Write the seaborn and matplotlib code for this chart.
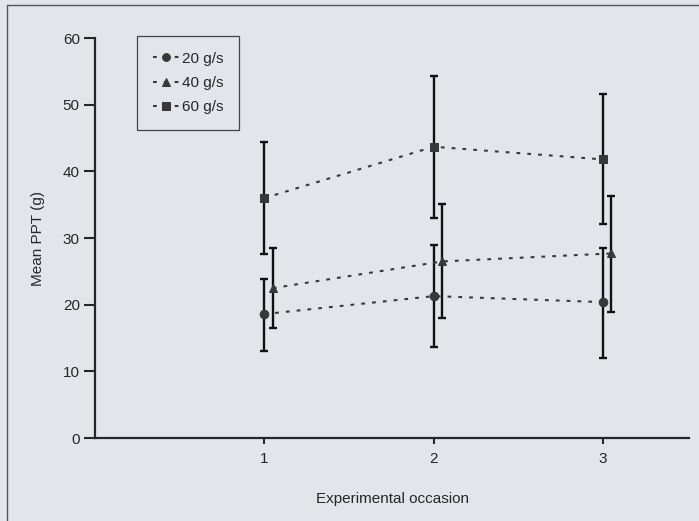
import numpy as np
import pandas as pd
import matplotlib
matplotlib.use('Agg')
import matplotlib.pyplot as plt
import seaborn as sns

#%% Values (mean PPT and error bar ends, g)
occasion  = [1, 2, 3]
speeds    = ['20 g/s', '40 g/s', '60 g/s']
mean_20   = [18.6, 21.3, 20.4]
lo_20     = [13.1, 13.7, 12.0]
hi_20     = [23.9, 28.9, 28.5]
mean_40   = [22.5, 26.5, 27.7]
lo_40     = [16.5, 18.0, 18.9]
hi_40     = [28.5, 35.1, 36.3]
mean_60   = [36.0, 43.7, 41.8]
lo_60     = [27.6, 33.0, 32.1]
hi_60     = [44.4, 54.3, 51.6]
xticklabels = ['1', '2', '3']

#%% Long table for seaborn
offsets = {'20 g/s': 0.0, '40 g/s': 0.05, '60 g/s': 0.0}
rows = []
for spd, m, lo, hi in zip(speeds, [mean_20, mean_40, mean_60], [lo_20, lo_40, lo_60], [hi_20, hi_40, hi_60]):
    for i in range(len(occasion)):
        rows.append({'occasion': occasion[i] + offsets[spd], 'speed': spd,
                     'ppt': m[i], 'lo': lo[i], 'hi': hi[i]})
df = pd.DataFrame(rows)

bg = '#e3e5ea'
ink = '#262626'
sns.set_style('ticks')
plt.rcParams['font.family'] = ['Liberation Sans', 'DejaVu Sans']
plt.rcParams['font.size'] = 11

fig = plt.figure(figsize=(6.99, 5.21), dpi=100, facecolor=bg)
ax = fig.add_axes([0.136, 0.159, 0.85, 0.768])
ax.set_facecolor(bg)

# error bars first so markers sit on top
for spd in speeds:
    sub = df[df['speed'] == spd]
    ax.errorbar(sub['occasion'], sub['ppt'], yerr=[sub['ppt'] - sub['lo'], sub['hi'] - sub['ppt']],
                fmt='none', ecolor='#111111', elinewidth=1.7, capsize=2.8, capthick=1.7, zorder=2)

sns.lineplot(data=df, x='occasion', y='ppt', style='speed', hue='speed',
             palette={s: '#383838' for s in speeds},
             markers={'20 g/s': 'o', '40 g/s': '^', '60 g/s': 's'},
             dashes={s: (1.8, 3.4) for s in speeds},
             markersize=6.2, markeredgecolor='#383838', linewidth=1.5,
             sort=False, ax=ax, zorder=3)

ax.set_xlim(0, 3.51)
ax.set_ylim(0, 60)
ax.set_xticks(occasion)
ax.set_xticklabels(xticklabels)
ax.set_yticks([0, 10, 20, 30, 40, 50, 60])
ax.set_xlabel('Experimental occasion', labelpad=19, color=ink)
ax.set_ylabel('Mean PPT (g)', labelpad=13, color=ink)
ax.tick_params(axis='y', length=8, width=1.5, color=ink, labelcolor=ink, pad=3)
ax.tick_params(axis='x', length=4, width=1.5, color=ink, labelcolor=ink, pad=6)
sns.despine(ax=ax)
for s in ['left', 'bottom']:
    ax.spines[s].set_linewidth(1.6)
    ax.spines[s].set_color(ink)

leg = ax.legend(loc='upper left', bbox_to_anchor=(0.07, 1.006), title=None,
                frameon=True, fancybox=False, handlelength=1.8, handletextpad=0.1,
                labelspacing=0.68, borderpad=1.05, borderaxespad=0, markerscale=0.9)
leg.get_frame().set_edgecolor('#444444')
leg.get_frame().set_linewidth(0.9)
leg.get_frame().set_facecolor(bg)
leg.get_frame().set_alpha(1)

# page box from the scan
fig.add_artist(plt.Line2D([0.01, 0.01], [0.0, 0.99], color='#555555', lw=1.0))
fig.add_artist(plt.Line2D([0.01, 1.0], [0.99, 0.99], color='#555555', lw=1.0))

fig.savefig('out.png', dpi=100, facecolor=bg)
